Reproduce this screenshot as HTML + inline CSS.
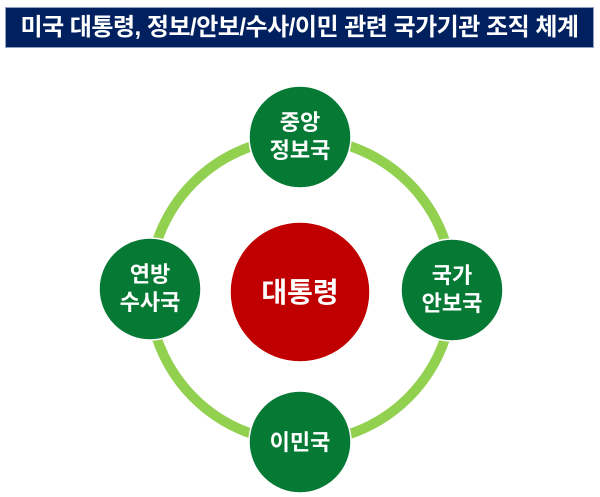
<!DOCTYPE html>
<html><head><meta charset="utf-8"><style>
body{margin:0;width:600px;height:497px;background:#fff;overflow:hidden;font-family:"Liberation Sans","Noto Sans CJK KR",sans-serif}
</style></head><body>
<div style="position:absolute;left:5px;top:7px;width:589px;height:41px;background:#002060;border:1px solid #8fa0c0;box-sizing:border-box;color:#fff;font-weight:bold;font-size:24px;line-height:39px;text-align:center;letter-spacing:-0.5px">미국 대통령, 정보/안보/수사/이민 관련 국가기관 조직 체계</div>
<svg width="600" height="497" style="position:absolute;left:0;top:0" font-family="Liberation Sans, Noto Sans CJK KR, sans-serif" font-weight="bold">
<circle cx="301" cy="290" r="152" fill="none" stroke="#92d050" stroke-width="10"/>
<circle cx="300" cy="292" r="70" fill="#c00000" stroke="#fff" stroke-width="1.5"/>
<text x="300" y="302" fill="#fff" font-size="28" text-anchor="middle">대통령</text>
<g fill="#067a35" stroke="#fff" stroke-width="1.5">
<circle cx="300" cy="137" r="51"/>
<circle cx="150" cy="289" r="51"/>
<circle cx="452" cy="290" r="51"/>
<circle cx="300" cy="442" r="51"/>
</g>
<g fill="#fff" font-size="22" text-anchor="middle">
<text x="300" y="130">중앙</text><text x="300" y="158">정보국</text>
<text x="150" y="282">연방</text><text x="150" y="310">수사국</text>
<text x="452" y="283">국가</text><text x="452" y="311">안보국</text>
<text x="300" y="450">이민국</text>
</g>
</svg>
</body></html>
